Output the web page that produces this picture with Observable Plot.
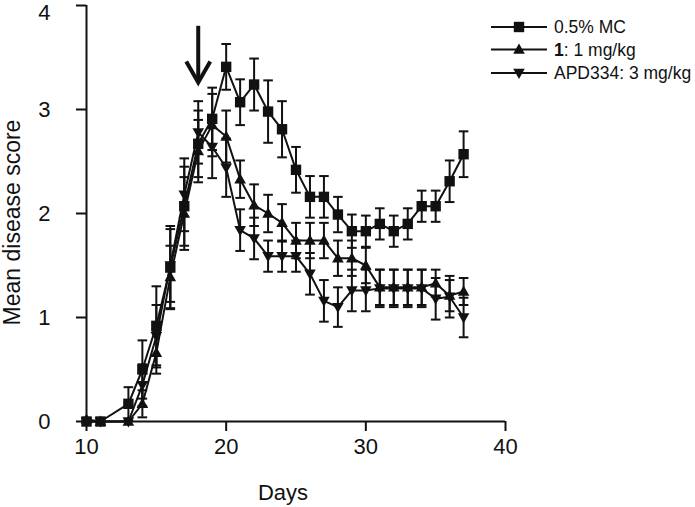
<!DOCTYPE html>
<html>
<head>
<meta charset="utf-8">
<script src="https://cdn.jsdelivr.net/npm/d3@7"></script>
<script src="https://cdn.jsdelivr.net/npm/@observablehq/plot@0.6"></script>
<style>
  body { margin: 0; background: #fff; }
  #wrap { position: relative; width: 695px; height: 507px; font-family: "Liberation Sans", Arial, sans-serif; }
  #legend { position: absolute; left: 0; top: 0; }
</style>
</head>
<body>
<div id="wrap"></div>
<script>
// ---- data ----
const days = [10,11,13,14,15,16,17,18,19,20,21,22,23,24,25,26,27,28,29,30,31,32,33,34,35,36,37];

const seriesNames = ["0.5% MC", "1: 1 mg/kg", "APD334: 3 mg/kg"];

const mcMean = [0, 0, 0.17, 0.5, 0.92, 1.48, 2.07, 2.67, 2.91, 3.41, 3.07, 3.24, 2.98, 2.81, 2.42, 2.16, 2.16, 1.99, 1.83, 1.83, 1.9, 1.83, 1.9, 2.07, 2.07, 2.31, 2.57];
const mcErr  = [0, 0, 0.16, 0.28, 0.38, 0.4, 0.38, 0.32, 0.3, 0.22, 0.22, 0.25, 0.3, 0.27, 0.22, 0.2, 0.2, 0.17, 0.16, 0.15, 0.15, 0.15, 0.15, 0.15, 0.15, 0.2, 0.22];

const c1Mean = [0.02, 0, 0, 0.17, 0.66, 1.39, 2.0, 2.6, 2.85, 2.74, 2.33, 2.08, 2.0, 1.91, 1.74, 1.74, 1.74, 1.57, 1.57, 1.5, 1.29, 1.29, 1.29, 1.29, 1.33, 1.21, 1.25];
const c1Err  = [0, 0, 0, 0.13, 0.2, 0.3, 0.35, 0.3, 0.3, 0.25, 0.18, 0.2, 0.18, 0.18, 0.17, 0.17, 0.17, 0.17, 0.17, 0.17, 0.17, 0.17, 0.17, 0.17, 0.13, 0.15, 0.13];

const apdMean = [0, 0, 0, 0.35, 0.82, 1.5, 2.18, 2.78, 2.64, 2.44, 1.84, 1.76, 1.59, 1.59, 1.59, 1.42, 1.16, 1.1, 1.26, 1.26, 1.28, 1.28, 1.28, 1.28, 1.18, 1.2, 1.0];
const apdErr  = [0, 0, 0, 0.2, 0.3, 0.35, 0.35, 0.3, 0.3, 0.28, 0.2, 0.2, 0.15, 0.15, 0.15, 0.2, 0.2, 0.19, 0.2, 0.2, 0.18, 0.18, 0.18, 0.18, 0.2, 0.2, 0.19];

const xTicks = [10, 20, 30, 40];
const yTicks = [0, 1, 2, 3, 4];

// treatment arrow (day 18)
const arrowDay = [18];
const arrowTop = 3.8;
const arrowTip = 3.26;

// ---- symbols ----
const symSquare = { draw(ctx) { ctx.rect(-5.2, -5.2, 10.4, 10.4); } };
const symUp = { draw(ctx) { ctx.moveTo(0, -6); ctx.lineTo(5.8, 4.2); ctx.lineTo(-5.8, 4.2); ctx.closePath(); } };
const symDown = { draw(ctx) { ctx.moveTo(0, 6); ctx.lineTo(5.8, -4.2); ctx.lineTo(-5.8, -4.2); ctx.closePath(); } };
const symCap = { draw(ctx) { ctx.moveTo(-4.8, 0); ctx.lineTo(4.8, 0); } };
const symChevron = { draw(ctx) { ctx.moveTo(-12, -21); ctx.lineTo(0, 0); ctx.lineTo(12, -21); } };
const symbols = [symSquare, symUp, symDown];

const means = [mcMean, c1Mean, apdMean];
const errs = [mcErr, c1Err, apdErr];
const rows = [];
seriesNames.forEach((s, si) => {
  days.forEach((d, i) => rows.push({ series: s, si, day: d, v: means[si][i], e: errs[si][i] }));
});
const errRows = rows.filter(r => r.e > 0);
const topTick = yTicks[yTicks.length - 1];

const marks = [
  Plot.ruleY([0], { stroke: "#111", strokeWidth: 2 }),
  Plot.ruleX([10], { stroke: "#111", strokeWidth: 2 }),
  Plot.axisX({ ticks: xTicks, tickFormat: "d", tickSize: 10, tickPadding: 7, fontSize: 22, label: null, strokeWidth: 2, color: "#111" }),
  Plot.axisY({ ticks: yTicks, tickFormat: d => (d === topTick ? "" : String(d)), tickSize: 10, tickPadding: 26, fontSize: 22, label: null, strokeWidth: 2, color: "#111" }),
  // top tick label nudged down so it is not clipped (as in the reference)
  Plot.text([topTick], { y: d => d, text: d => String(d), frameAnchor: "left", textAnchor: "end", lineAnchor: "middle", dx: -36, dy: 7, fontSize: 22, fill: "#111" }),
  Plot.ruleX(errRows, { x: "day", y1: d => d.v - d.e, y2: d => d.v + d.e, stroke: "#111", strokeWidth: 2 }),
  Plot.dot(errRows, { x: "day", y: d => d.v + d.e, symbol: () => symCap, r: 5, stroke: "#111", strokeWidth: 2, fill: "none" }),
  Plot.dot(errRows, { x: "day", y: d => d.v - d.e, symbol: () => symCap, r: 5, stroke: "#111", strokeWidth: 2, fill: "none" })
];
[2, 1, 0].forEach(si => {
  const sub = rows.filter(r => r.si === si);
  marks.push(Plot.line(sub, { x: "day", y: "v", stroke: "#111", strokeWidth: 2 }));
  marks.push(Plot.dot(sub, { x: "day", y: "v", symbol: () => symbols[si], r: 5, fill: "#111", stroke: "none" }));
});
marks.push(
  Plot.ruleX(arrowDay, { x: d => d, y1: arrowTop, y2: arrowTip + 0.02, stroke: "#111", strokeWidth: 4 }),
  Plot.dot(arrowDay, { x: d => d, y: arrowTip, symbol: () => symChevron, r: 5, stroke: "#111", strokeWidth: 4, fill: "none", strokeLinejoin: "miter" }),
  Plot.text(["Mean disease score"], { text: d => d, frameAnchor: "left", textAnchor: "middle", lineAnchor: "middle", rotate: -90, dx: -74, dy: 9, fontSize: 23, fill: "#111" }),
  Plot.text(["Days"], { text: d => d, frameAnchor: "bottom", textAnchor: "middle", lineAnchor: "bottom", dx: -13, dy: 78, fontSize: 22, fill: "#111" })
);

const chart = Plot.plot({
  width: 695,
  height: 507,
  marginLeft: 86,
  marginRight: 190,
  marginTop: 5,
  marginBottom: 86,
  style: { fontFamily: "Liberation Sans, Arial, sans-serif", background: "#fff", color: "#111" },
  x: { domain: [10, 40] },
  y: { domain: [0, 4] },
  symbol: { type: "identity" },
  marks
});
document.getElementById("wrap").appendChild(chart);

// ---- legend ----
const leg = d3.select("#wrap").append("svg").attr("id", "legend").attr("width", 695).attr("height", 100);
const rowY = [27, 49.5, 73];
const symPaths = [
  "M-5.2,-5.2h10.4v10.4h-10.4z",
  "M0,-6L5.8,4.2L-5.8,4.2Z",
  "M0,6L5.8,-4.2L-5.8,-4.2Z"
];
seriesNames.forEach((s, i) => {
  const g = leg.append("g").attr("transform", `translate(0,${rowY[i]})`);
  g.append("line").attr("x1", 491).attr("x2", 547).attr("y1", 0).attr("y2", 0).attr("stroke", "#111").attr("stroke-width", 2);
  g.append("path").attr("d", symPaths[i]).attr("transform", "translate(519,0)").attr("fill", "#111");
  const t = g.append("text").attr("x", 554).attr("y", 6).attr("font-size", 17.5).attr("fill", "#111")
    .attr("font-family", "Liberation Sans, Arial, sans-serif");
  if (i === 1) {
    t.append("tspan").attr("font-weight", "bold").text("1");
    t.append("tspan").text(": 1 mg/kg");
  } else {
    t.text(s);
  }
});
</script>
</body>
</html>
